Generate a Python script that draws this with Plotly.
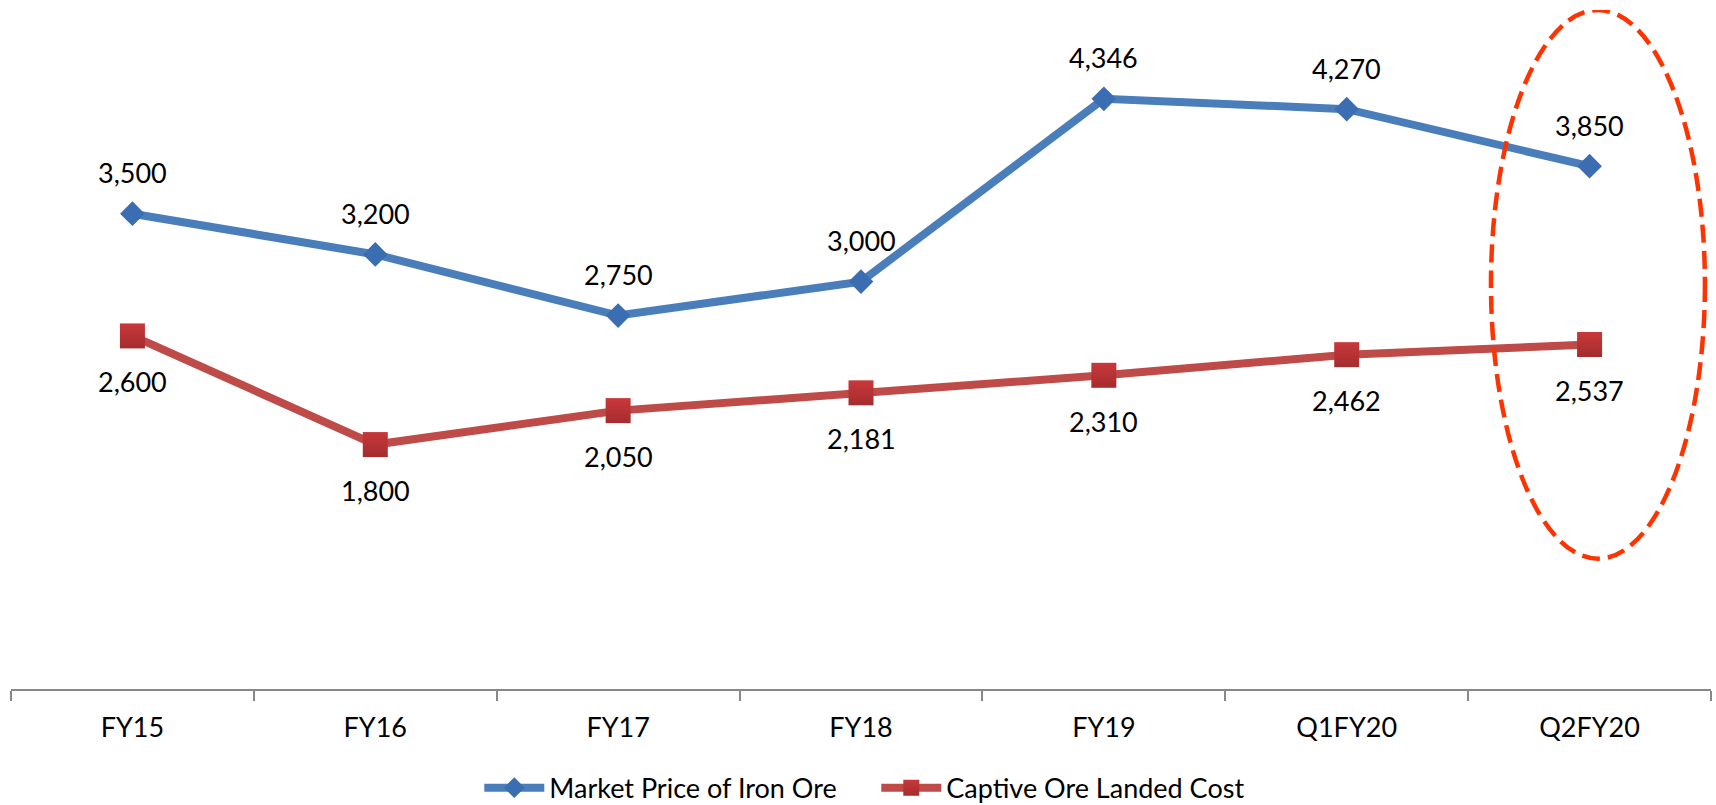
import plotly.graph_objects as go

# Chart data
categories = ["FY15", "FY16", "FY17", "FY18", "FY19", "Q1FY20", "Q2FY20"]
market_price = [3500, 3200, 2750, 3000, 4346, 4270, 3850]
captive_cost = [2600, 1800, 2050, 2181, 2310, 2462, 2537]
series_names = ["Market Price of Iron Ore", "Captive Ore Landed Cost"]

FONT = "Lato, 'Open Sans', sans-serif"
BLUE_LINE, BLUE_MARK = "#4A7EBB", "#3B6DB3"
RED_LINE, RED_MARK = "#BE4B48", "#C8383A"

fig = go.Figure()

fig.add_trace(go.Scatter(
    x=categories, y=market_price, name=series_names[0], mode="lines+markers",
    line=dict(color=BLUE_LINE, width=8),
    marker=dict(symbol="diamond", size=19, color=BLUE_MARK,
                line=dict(width=0)),
))
fig.add_trace(go.Scatter(
    x=categories, y=captive_cost, name=series_names[1], mode="lines+markers",
    line=dict(color=RED_LINE, width=8),
    marker=dict(symbol="square", size=25, color=RED_MARK,
                gradient=dict(type="vertical", color="#A52C2E"),
                line=dict(width=0)),
))

# Value labels: above the price line, below the cost line
for cat, v in zip(categories, market_price):
    fig.add_annotation(x=cat, y=v, text=f"{v:,}", showarrow=False,
                       yshift=41, font=dict(family=FONT, size=27, color="#000"))
for cat, v in zip(categories, captive_cost):
    fig.add_annotation(x=cat, y=v, text=f"{v:,}", showarrow=False,
                       yshift=-46, font=dict(family=FONT, size=27, color="#000"))

# Dashed highlight around the latest quarter
fig.add_shape(type="circle", xref="x", yref="y",
              x0=5.594, x1=6.475, y0=960, y1=5000,
              line=dict(color="#FF3300", width=4.5, dash="18px,8px"))

fig.update_layout(
    width=1716, height=805,
    margin=dict(l=11, r=5, t=10, b=116, autoexpand=False),
    paper_bgcolor="white", plot_bgcolor="white",
    showlegend=True,
    legend=dict(orientation="h", x=0.509, xanchor="center",
                yref="container", y=0.021, yanchor="middle",
                font=dict(family=FONT, size=27, color="#000"),
                itemwidth=60, tracegroupgap=0, itemsizing="trace",
                entrywidth=322),
    font=dict(family=FONT),
)
fig.update_xaxes(
    type="category", range=[-0.5, 6.5], automargin=False,
    showgrid=False, zeroline=False,
    showline=True, linecolor="#888888", linewidth=1.5,
    ticks="outside", tickson="boundaries", ticklen=10, tickcolor="#888888",
    tickwidth=1.5, tickfont=dict(family=FONT, size=27, color="#000"),
    ticklabelstandoff=14,
)
fig.update_yaxes(range=[0, 5000], visible=False, showgrid=False,
                 zeroline=False, automargin=False)

fig.write_html("out.html")
